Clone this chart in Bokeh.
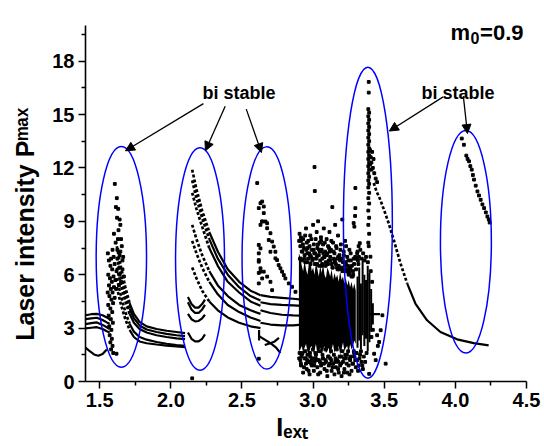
from math import pi
from bokeh.plotting import figure
from bokeh.models import (Label, Arrow, NormalHead, FixedTicker, NumeralTickFormatter,
                          Range1d, ColumnDataSource)
from bokeh.embed import file_html
from bokeh.resources import INLINE

FONT = "Liberation Sans"

# ---------------- axes ----------------
x_ticks = [1.5, 2.0, 2.5, 3.0, 3.5, 4.0, 4.5]
x_minor = [1.75, 2.25, 2.75, 3.25, 3.75, 4.25]
y_ticks = [0, 3, 6, 9, 12, 15, 18]
y_minor = [1.5, 4.5, 7.5, 10.5, 13.5, 16.5, 19.5]
x_title = "I\u2091\u2093\u209c" + "\u00a0" * 4
y_title = "Laser intensity P\u1d50\u1d43\u02e3" + "\u00a0" * 6

# ---------------- branches (continuous curves) ----------------
left_x = [1.40, 1.44, 1.48, 1.52, 1.55, 1.57]
left_y = [[3.72, 3.78, 3.80, 3.72, 3.60, 3.50],
          [3.50, 3.55, 3.58, 3.45, 3.32, 3.25],
          [3.22, 3.28, 3.32, 3.18, 3.05, 2.95],
          [2.98, 3.02, 3.05, 2.95, 2.82, 2.75]]
low_v_x = [1.40, 1.43, 1.46, 1.49, 1.52, 1.55]
low_v_y = [1.90, 1.70, 1.52, 1.45, 1.55, 1.80]

e1_strand_x = [1.62, 1.65, 1.68, 1.71, 1.74, 1.78, 1.83, 1.90, 1.97, 2.04, 2.10]
e1_strand_y = [[7.6, 6.4, 5.3, 4.4, 3.80, 3.35, 3.10, 2.95, 2.85, 2.78, 2.72],
               [7.0, 5.9, 4.9, 4.1, 3.55, 3.15, 2.92, 2.78, 2.68, 2.60, 2.55],
               [6.4, 5.4, 4.5, 3.8, 3.30, 2.95, 2.75, 2.60, 2.50, 2.42, 2.38],
               [5.8, 4.8, 3.9, 3.25, 2.80, 2.50, 2.35, 2.22, 2.12, 2.05, 2.00],
               [5.3, 4.3, 3.5, 2.90, 2.50, 2.25, 2.15, 2.08, 2.02, 1.97, 1.93]]
e1_steep = 4   # first points drawn as dotted run

arc_x = [2.12, 2.145, 2.17, 2.195, 2.22, 2.24]
arc_y = [[4.75, 4.35, 4.15, 4.15, 4.35, 4.60],
         [4.45, 4.05, 3.85, 3.85, 4.05, 4.30],
         [3.80, 3.50, 3.38, 3.40, 3.55, 3.75],
         [2.75, 2.40, 2.25, 2.25, 2.40, 2.65]]

e2_strand_x = [2.15, 2.18, 2.22, 2.27, 2.33, 2.40, 2.48, 2.56, 2.63]
e2_strand_y = [[11.9, 10.8, 9.6, 8.4, 7.3, 6.3, 5.6, 5.1, 4.85],
               [11.3, 10.3, 9.2, 8.0, 6.9, 6.0, 5.3, 4.8, 4.55],
               [10.6, 9.7, 8.7, 7.5, 6.5, 5.6, 5.0, 4.5, 4.25],
               [8.8, 8.0, 7.1, 6.2, 5.4, 4.8, 4.3, 4.0, 3.80],
               [7.9, 7.2, 6.4, 5.6, 4.9, 4.3, 3.9, 3.6, 3.40],
               [6.4, 5.8, 5.1, 4.5, 4.0, 3.6, 3.3, 3.1, 3.00]]
e2_steep = 4

e3_cont_x = [2.63, 2.70, 2.78, 2.86, 2.92]
e3_cont_y = [[4.85, 4.75, 4.70, 4.65, 4.60],
             [4.45, 4.35, 4.30, 4.28, 4.25],
             [4.00, 3.85, 3.75, 3.72, 3.70],
             [3.30, 3.20, 3.15, 3.15, 3.20]]

e3_low_x = [[2.62, 2.66, 2.70, 2.74, 2.77], [2.66, 2.70, 2.73, 2.76], [2.62, 2.62]]
e3_low_y = [[2.55, 2.35, 2.15, 1.90, 1.60], [2.05, 2.15, 2.25, 2.45], [2.30, 2.90]]

right_x = [3.426, 3.445, 3.473, 3.50, 3.531, 3.567, 3.614, 3.661, 3.719, 3.801, 3.895, 4.012, 4.129, 4.234]
right_y = [11.15, 10.7, 10.2, 9.6, 8.9, 7.95, 6.64, 5.51, 4.38, 3.44, 2.78, 2.37, 2.16, 2.03]
right_steep = 8

flat_x = [3.40, 3.47]
flat_y = [3.78, 3.78]

# ---------------- scattered points ----------------
e1_pts_x = [1.606, 1.614, 1.622, 1.600, 1.632, 1.612, 1.590, 1.624, 1.557, 1.564, 1.580, 1.598, 1.640,
            1.575, 1.588, 1.605, 1.618, 1.560, 1.572, 1.585, 1.597, 1.610, 1.565, 1.578, 1.590, 1.600,
            1.556, 1.568, 1.582, 1.594, 1.560, 1.575, 1.588, 1.563, 1.578, 1.592, 1.567, 1.582, 1.570,
            1.585, 1.575, 1.590, 1.580, 1.595, 1.630, 1.645, 1.650, 1.625, 1.638, 1.655, 1.615, 1.605,
            1.660, 1.618, 1.640, 1.650, 1.660, 1.670, 1.635, 1.645, 1.665, 1.628, 1.640, 1.620]
e1_pts_y = [11.1, 9.8, 9.2, 8.3, 8.5, 7.8, 7.4, 7.4, 7.2, 6.8, 6.9, 7.0, 7.1,
            6.5, 6.3, 6.6, 6.2, 6.0, 5.8, 5.6, 5.9, 5.7, 5.4, 5.2, 5.0, 5.3,
            5.0, 4.8, 4.6, 4.4, 4.3, 4.1, 3.9, 3.7, 3.5, 3.3, 3.1, 2.9, 2.6,
            2.4, 2.2, 2.0, 1.8, 1.6, 9.7, 8.8, 8.0, 6.9, 6.4, 7.6, 5.2, 4.7,
            6.8, 1.56, 6.0, 5.6, 6.3, 5.9, 5.4, 7.3, 7.0, 8.0, 9.1, 10.3]

e3_pts_x = [2.607, 2.630, 2.618, 2.642, 2.630, 2.618, 2.630, 2.618, 2.630,
            2.642, 2.653, 2.653, 2.642, 2.665, 2.677, 2.677, 2.700, 2.688, 2.712, 2.723, 2.700,
            2.735, 2.735, 2.747, 2.758, 2.770, 2.782, 2.794, 2.805, 2.829, 2.852, 2.876,
            2.618, 2.618, 2.630, 2.618, 2.653, 2.642, 2.618, 2.700, 2.677, 2.712, 2.618, 2.150]
e3_pts_y = [11.15, 10.02, 9.74, 8.99, 8.80, 7.67, 7.48, 6.82, 6.17,
            10.11, 9.83, 9.46, 8.99, 8.99, 8.89, 8.61, 8.33, 7.95, 7.86, 7.58, 7.29,
            7.29, 6.92, 6.82, 6.54, 6.36, 6.17, 5.98, 5.79, 5.51, 5.32, 5.04,
            7.20, 6.73, 6.36, 6.10, 6.17, 5.79, 5.51, 5.60, 5.89, 5.13, 1.28, 0.18]

# dense chaotic band: column extents
cloud_x = [2.90, 2.91, 2.92, 2.93, 2.94, 2.95, 2.96, 2.97, 2.98, 2.99, 3.00, 3.01, 3.02, 3.03,
           3.04, 3.05, 3.06, 3.07, 3.08, 3.09, 3.10, 3.11, 3.12, 3.13, 3.14, 3.15, 3.16, 3.17,
           3.18, 3.19, 3.20, 3.21, 3.22, 3.23, 3.24, 3.25, 3.26, 3.27, 3.28, 3.29, 3.30]
cloud_hi = [7.2, 7.0, 6.5, 6.2, 6.8, 6.3, 6.0, 6.6, 6.9, 6.2, 6.4, 6.0, 6.7, 6.3,
            5.9, 6.5, 6.1, 6.6, 6.0, 5.8, 6.4, 6.2, 5.9, 6.3, 5.7, 6.1, 5.8, 6.0,
            5.6, 6.2, 5.7, 5.9, 5.5, 5.8, 5.4, 5.7, 5.3, 5.6, 5.2, 5.5, 5.1]
cloud_lo = [1.7, 1.8, 2.0, 1.6, 1.9, 2.1, 1.7, 1.5, 1.9, 2.0, 1.6, 1.8, 2.1, 1.5,
            1.7, 1.9, 1.4, 1.8, 2.0, 1.6, 1.7, 1.9, 1.5, 1.8, 2.1, 1.6, 1.9, 1.7,
            2.0, 1.5, 1.8, 2.2, 1.7, 1.9, 2.0, 1.6, 2.1, 1.8, 2.0, 2.3, 2.1]
streak_x = [3.312, 3.324, 3.336, 3.348, 3.360, 3.372, 3.384, 3.396, 3.408, 3.420]
streak_lo = [1.9, 2.3, 1.8, 2.6, 2.0, 2.4, 1.7, 2.2, 2.8, 3.2]
streak_hi = [5.9, 6.4, 5.5, 6.8, 6.0, 5.7, 6.5, 6.1, 5.2, 4.4]

fringe_x = [2.905, 2.91, 2.915, 2.92, 2.93, 2.935, 2.94, 2.95, 2.955, 2.96, 2.965, 2.975, 2.98, 2.985,
            2.99, 3.0, 3.005, 3.01, 3.012, 3.015, 3.02, 3.025, 3.03, 3.035, 3.04, 3.045, 3.05, 3.055,
            3.06, 3.065, 3.07, 3.075, 3.08, 3.085, 3.09, 3.095, 3.10, 3.105, 3.11, 3.115, 3.12, 3.125,
            3.13, 3.135, 3.14, 3.145, 3.15, 3.155, 3.16, 3.165, 3.17, 3.175, 3.18, 3.185, 3.19, 3.195,
            3.20, 3.205, 3.21, 3.215, 3.22, 3.225, 3.23, 3.235, 3.24, 3.245, 3.25, 3.255, 3.26, 3.265,
            3.27, 3.28, 3.285, 3.29, 3.295, 3.297, 3.297, 3.285, 3.31, 3.32, 3.315, 3.328,
            2.912, 2.925, 2.945, 2.962, 2.978, 2.995, 3.008, 3.028, 3.042, 3.062, 3.078, 3.098, 3.118,
            3.138, 3.152, 3.172, 3.188, 3.208, 3.228, 3.248, 3.262, 3.278, 3.302, 3.318,
            2.905, 2.91, 2.915, 2.92, 2.93, 2.94, 2.95, 2.955, 2.96, 2.97, 2.975, 2.98, 2.99, 3.0,
            3.005, 3.01, 3.02, 3.03, 3.04, 3.05, 3.06, 3.07, 3.08, 3.09, 3.10, 3.11, 3.12, 3.13,
            3.14, 3.15, 3.16, 3.17, 3.18, 3.19, 3.20, 3.21, 3.22, 3.23, 3.24, 3.25, 3.26, 3.27,
            3.28, 3.29, 3.30, 3.31, 3.32, 3.33, 3.34, 3.35,
            2.918, 2.948, 2.968, 2.988, 3.018, 3.048, 3.068, 3.088, 3.108, 3.128, 3.158, 3.178,
            3.198, 3.218, 3.238, 3.258, 3.288]
fringe_y = [8.3, 7.6, 7.9, 7.3, 8.0, 7.5, 7.1, 8.6, 7.8, 7.2, 6.9, 7.6, 8.2, 7.0,
            7.4, 8.8, 7.7, 12.05, 10.7, 7.2, 6.9, 8.4, 7.5, 9.0, 7.1, 7.8, 6.8, 8.1,
            7.4, 6.9, 7.7, 8.6, 7.0, 7.3, 6.7, 8.0, 7.2, 7.6, 6.8, 8.4, 7.0, 7.4,
            6.6, 9.8, 7.8, 6.9, 7.2, 8.8, 6.6, 7.5, 6.9, 8.2, 6.5, 7.1, 6.8, 7.7,
            6.4, 9.1, 6.7, 7.3, 6.3, 7.9, 6.6, 6.2, 7.0, 6.5, 6.0, 7.4, 6.3, 6.8,
            5.9, 6.2, 6.9, 8.7, 9.3, 9.74, 10.87, 8.9, 7.2, 7.6, 6.8, 7.77,
            6.9, 7.3, 6.7, 7.5, 7.1, 6.8, 7.2, 6.6, 7.4, 6.5, 7.0, 6.6, 7.3,
            6.4, 6.8, 6.3, 6.9, 6.2, 6.7, 6.1, 6.4, 5.9, 6.3, 6.6,
            1.6, 1.2, 0.9, 1.5, 0.5, 1.3, 1.0, 0.7, 1.5, 1.1, 0.4, 1.4, 0.9, 1.3,
            0.6, 1.1, 1.5, 0.8, 1.2, 0.5, 1.0, 1.3, 0.7, 1.1, 0.3, 0.9, 1.3, 0.6,
            1.0, 0.4, 0.8, 1.2, 0.5, 0.9, 0.3, 1.1, 0.7, 1.3, 0.5, 0.9, 1.2, 0.6,
            1.0, 1.4, 0.8, 1.2, 0.9, 1.5, 1.1, 0.7,
            1.4, 1.3, 1.1, 1.2, 1.3, 1.1, 1.3, 1.2, 1.4, 1.2, 1.3, 1.1, 1.4, 1.3, 1.5, 1.3, 1.6]

speck_x = [2.902, 2.908, 2.914, 2.922, 2.928, 2.938, 2.944, 2.952, 2.958, 2.966, 2.972, 2.982, 2.988,
           2.996, 3.004, 3.012, 3.018, 3.026, 3.034, 3.042, 3.048, 3.056, 3.064, 3.072, 3.082, 3.088,
           3.096, 3.104, 3.112, 3.122, 3.128, 3.136, 3.144, 3.152, 3.162, 3.168, 3.176, 3.184, 3.192,
           3.202, 3.208, 3.216, 3.224, 3.232, 3.242, 3.248, 3.256, 3.264, 3.272, 3.282, 3.288, 3.296,
           3.304, 3.312, 3.322, 3.332, 3.342, 3.352, 3.362, 3.372, 3.385, 3.405, 3.415,
           2.902, 2.914, 2.926, 2.936, 2.946, 2.958, 2.968, 2.978, 2.986, 2.998, 3.008, 3.016, 3.028,
           3.036, 3.046, 3.056, 3.066, 3.076, 3.086, 3.096, 3.106, 3.116, 3.126, 3.136, 3.146, 3.156,
           3.166, 3.176, 3.186, 3.196, 3.206, 3.216, 3.226, 3.236, 3.246, 3.256, 3.266, 3.276, 3.286,
           3.296, 3.306, 3.316, 3.326, 3.336, 3.346, 3.356, 3.366, 3.376, 3.410, 3.420]
speck_y = [7.9, 6.9, 8.1, 6.8, 7.7, 6.9, 8.2, 7.4, 6.7, 7.9, 7.2, 6.6, 8.0,
           6.9, 7.4, 6.6, 8.0, 7.0, 7.7, 6.5, 7.3, 7.9, 6.6, 7.2, 7.8, 6.5,
           7.1, 6.6, 7.5, 6.8, 7.9, 6.4, 7.3, 6.7, 7.6, 6.4, 7.0, 6.3, 7.4,
           6.9, 6.2, 7.1, 6.5, 7.6, 6.3, 6.8, 6.1, 7.2, 6.5, 6.0, 6.6, 7.0,
           6.9, 7.3, 7.0, 7.4, 6.9, 7.2, 6.8, 7.0, 6.7, 6.2, 5.6,
           1.3, 1.0, 1.6, 0.8, 1.7, 1.2, 0.6, 1.6, 1.0, 1.8, 0.9, 1.6, 1.2,
           0.4, 1.7, 0.9, 1.5, 1.0, 1.8, 0.6, 1.4, 1.0, 1.7, 0.8, 1.5, 1.1,
           1.8, 0.7, 1.4, 1.0, 1.7, 0.5, 1.5, 1.0, 1.7, 0.4, 1.4, 1.0, 1.7,
           1.2, 1.6, 0.6, 1.3, 1.7, 0.9, 1.4, 1.1, 1.6, 2.5, 2.9]

e4_pts_x = [3.391, 3.391, 3.388, 3.394, 3.388, 3.394, 3.388, 3.394, 3.388, 3.394, 3.388, 3.394,
            3.388, 3.394, 3.388, 3.394, 3.388, 3.394, 3.388, 3.394, 3.388, 3.394, 3.388, 3.394,
            3.388, 3.394, 3.388, 3.394, 3.388, 3.394, 3.388, 3.394, 3.388,
            3.400, 3.405, 3.410, 3.420, 3.430, 3.410, 3.440, 3.450, 3.400, 3.415, 3.425,
            3.403, 3.391, 3.487, 3.475, 3.464, 3.455, 3.429, 3.394, 3.510, 3.450, 3.440]
e4_pts_y = [16.83, 16.23, 15.3, 15.1, 14.9, 14.7, 14.5, 14.3, 14.1, 13.9, 13.7, 13.5,
            13.3, 13.1, 12.9, 12.7, 12.5, 12.3, 12.1, 11.9, 11.7, 11.5, 11.3, 11.1,
            10.9, 10.6, 10.3, 10.0, 9.6, 9.2, 8.8, 8.3, 7.8,
            13.0, 12.6, 12.3, 12.0, 11.7, 11.9, 11.4, 11.2, 12.2, 12.9, 12.5,
            7.01, 7.6, 3.72, 2.88, 2.22, 2.0, 1.56, 0.43, 1.0, 2.6, 1.2]

e5_pts_x = [4.045, 4.060, 4.077, 4.086, 4.096, 4.105, 4.115, 4.123, 4.131, 4.143,
            4.155, 4.166, 4.178, 4.190, 4.202, 4.214, 4.225, 4.235, 4.241]
e5_pts_y = [13.65, 13.30, 12.69, 12.50, 12.37, 12.10, 11.90, 11.60, 11.34, 11.00,
            10.68, 10.45, 10.21, 9.95, 9.74, 9.50, 9.27, 9.10, 8.93]

# ---------------- bistable regions (ellipses) ----------------
ell_x = [1.652, 2.205, 2.674, 3.385, 4.074]
ell_y = [7.00, 6.88, 6.94, 8.92, 7.85]
ell_w = [0.354, 0.344, 0.347, 0.344, 0.358]
ell_h = [12.4, 12.5, 12.5, 17.5, 12.5]

# ---------------- figure ----------------
p = figure(width=544, height=446, x_range=Range1d(1.4, 4.5), y_range=Range1d(0, 20),
           output_backend="svg", toolbar_location=None,
           min_border_left=85, min_border_right=18, min_border_top=25, min_border_bottom=65)
p.outline_line_color = None
p.xgrid.visible = False
p.ygrid.visible = False
p.background_fill_color = "white"

for ax in (p.xaxis[0], p.yaxis[0]):
    ax.axis_line_width = 1.6
    ax.major_tick_line_width = 1.5
    ax.minor_tick_line_width = 1.5
    ax.major_tick_in = 0
    ax.major_tick_out = 7
    ax.minor_tick_in = 0
    ax.minor_tick_out = 4
    ax.major_label_text_font = FONT
    ax.major_label_text_font_style = "bold"
    ax.major_label_text_font_size = "20px"
    ax.major_label_text_color = "black"
    ax.major_label_standoff = 4
    ax.axis_label_text_font = FONT
    ax.axis_label_text_font_style = "bold"
    ax.axis_label_text_font_size = "25px"
    ax.axis_label_text_color = "black"

p.xaxis[0].ticker = FixedTicker(ticks=x_ticks, minor_ticks=x_minor)
p.xaxis[0].formatter = NumeralTickFormatter(format="0.0")
p.yaxis[0].ticker = FixedTicker(ticks=y_ticks, minor_ticks=y_minor)
p.xaxis[0].axis_label = x_title
p.xaxis[0].axis_label_standoff = 3
p.yaxis[0].axis_label = y_title
p.yaxis[0].axis_label_standoff = 10

# dense chaotic band (solid core as one filled area between its lower and upper edges)
p.varea(x=cloud_x, y1=cloud_lo, y2=cloud_hi, fill_color="black")
p.segment(x0=streak_x, y0=streak_lo, x1=streak_x, y1=streak_hi, line_color="black", line_width=2.0)

# curves: solid parts
mx, my = [], []
for ys in left_y:
    mx.append(left_x); my.append(ys)
mx.append(low_v_x); my.append(low_v_y)
for ys in e1_strand_y:
    mx.append(e1_strand_x[e1_steep - 1:]); my.append(ys[e1_steep - 1:])
for ys in arc_y:
    mx.append(arc_x); my.append(ys)
for ys in e2_strand_y:
    mx.append(e2_strand_x[e2_steep - 1:]); my.append(ys[e2_steep - 1:])
for ys in e3_cont_y:
    mx.append(e3_cont_x); my.append(ys)
for xs, ys in zip(e3_low_x, e3_low_y):
    mx.append(xs); my.append(ys)
mx.append(right_x[right_steep - 1:]); my.append(right_y[right_steep - 1:])
mx.append(flat_x); my.append(flat_y)
p.multi_line(xs=mx, ys=my, line_color="black", line_width=2.2)

# curves: steep, sparsely sampled parts (dotted)
dx, dy = [], []
for ys in e1_strand_y:
    dx.append(e1_strand_x[:e1_steep]); dy.append(ys[:e1_steep])
for ys in e2_strand_y:
    dx.append(e2_strand_x[:e2_steep]); dy.append(ys[:e2_steep])
dx.append(right_x[:right_steep]); dy.append(right_y[:right_steep])
p.multi_line(xs=dx, ys=dy, line_color="black", line_width=2.7, line_dash="3 2")

for xs, ys in [(e1_pts_x, e1_pts_y), (e3_pts_x, e3_pts_y), (fringe_x, fringe_y),
               (speck_x, speck_y), (e4_pts_x, e4_pts_y), (e5_pts_x, e5_pts_y)]:
    p.scatter(x=xs, y=ys, marker="square", size=2.8, color="black")

ell_src = ColumnDataSource(dict(x=ell_x, y=ell_y, w=ell_w, h=ell_h))
p.ellipse(x="x", y="y", width="w", height="h", source=ell_src,
          fill_color=None, line_color="#0000ff", line_width=1.5)

# arrows
arrows = [((2.229, 15.61), (1.681, 12.96)),
          ((2.382, 15.46), (2.243, 12.96)),
          ((2.530, 15.30), (2.637, 12.86)),
          ((3.914, 15.99), (3.536, 14.07)),
          ((4.056, 16.03), (4.085, 13.93))]
for (xs, ys), (xe, ye) in arrows:
    p.add_layout(Arrow(end=NormalHead(size=9, fill_color="black", line_color="black", line_width=1),
                       x_start=xs, y_start=ys, x_end=xe, y_end=ye,
                       line_color="black", line_width=1.3))

def lab(x, y, text, size, angle=0.0):
    p.add_layout(Label(x=x, y=y, text=text, text_font=FONT, text_font_style="bold",
                       text_font_size=size, text_color="black", angle=angle,
                       text_baseline="alphabetic", text_align="left"))

lab(2.222, 16.20, "bi stable", "18px")
lab(3.762, 16.20, "bi stable", "18px")
lab(3.966, 19.61, "m", "22px")
lab(4.107, 19.32, "0", "16px")
lab(4.174, 19.61, "=0.9", "22px")

open("out.html", "w").write(file_html(p, INLINE))
